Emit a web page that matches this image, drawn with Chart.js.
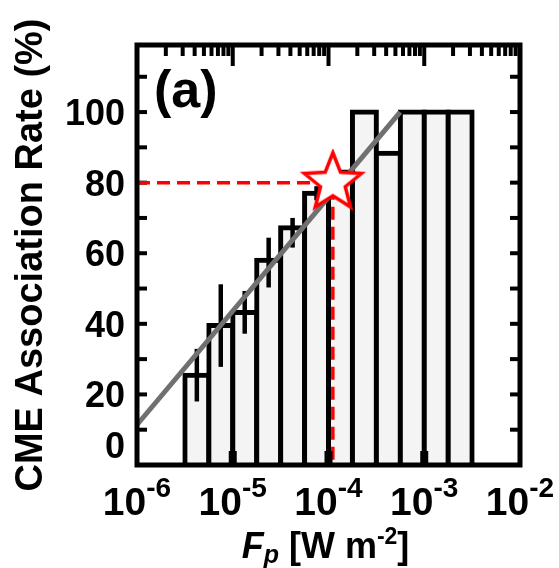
<!DOCTYPE html>
<html><head><meta charset="utf-8">
<script src="https://cdn.jsdelivr.net/npm/chart.js@4.4.1/dist/chart.umd.min.js"></script>
<style>html,body{margin:0;padding:0;background:#fff;}#wrap{width:559px;height:568px;position:relative;}</style>
</head><body><div id="wrap"><canvas id="c"></canvas></div>
<script>
// ---- data ----
const decades = [-6, -5, -4, -3, -2];                 // x tick labels: 10^d
const yTickLabels = [0, 20, 40, 60, 80, 100];
const binLogCenters = [-5.375, -5.125, -4.875, -4.625, -4.375, -4.125, -3.875, -3.625, -3.375, -3.125, -2.875, -2.625];
const rates = [25.4, 39.5, 43.2, 58.0, 67.2, 77.0, 83.0, 100, 88.3, 100, 100, 100];
const errLow  = [18.0, 27.8, 37.2, 50.3, 61.6, 75.0];
const errHigh = [32.9, 51.2, 49.3, 64.4, 70.0, 79.0];
const fitFlux = [1e-6, 5.6e-4];
const fitRate = [11.4, 100];
const markFlux = 1.11e-4;
const markRate = 80;

const FONT = '"Liberation Sans", Arial, Helvetica, sans-serif';

function makeStar(R, r, lw) {
  const s = Math.ceil(2 * R + lw + 4);
  const c = document.createElement('canvas');
  c.width = s; c.height = s;
  const g = c.getContext('2d');
  const cx = s / 2, cy = s / 2;
  g.beginPath();
  for (let i = 0; i < 10; i++) {
    const rad = i % 2 === 0 ? R : r;
    const a = -Math.PI / 2 + i * Math.PI / 5;
    g.lineTo(cx + rad * Math.cos(a), cy + rad * Math.sin(a));
  }
  g.closePath();
  g.fillStyle = '#fff'; g.fill();
  g.strokeStyle = '#ff0000'; g.lineWidth = lw; g.lineJoin = 'miter'; g.stroke();
  return c;
}

const barData = binLogCenters.map((l, i) => ({ x: Math.pow(10, l), y: rates[i] }));
const errData = errLow.map((lo, i) => ({ x: Math.pow(10, binLogCenters[i]), y: [lo, errHigh[i]] }));
const fitData = fitFlux.map((f, i) => ({ x: f, y: fitRate[i] }));
const dashData = [{ x: Math.pow(10, decades[0]), y: markRate }, { x: markFlux, y: markRate }, { x: markFlux, y: 0 }];

function seg(ctx, x1, y1, x2, y2) { ctx.beginPath(); ctx.moveTo(x1, y1); ctx.lineTo(x2, y2); ctx.stroke(); }

const decor = {
  id: 'decor',
  beforeDatasetsDraw(chart) {
    const { ctx, chartArea: a, scales: { x, y } } = chart;
    ctx.save();
    ctx.strokeStyle = '#000'; ctx.lineWidth = 4; ctx.lineCap = 'butt';
    for (let v = 0; v <= 110; v += 10) {
      const py = y.getPixelForValue(v);
      seg(ctx, a.left, py, a.left + 10, py);
      seg(ctx, a.right - 10, py, a.right, py);
    }
    for (let d = decades[0]; d < decades[decades.length - 1]; d++) {
      for (let m = 1; m <= 9; m++) {
        const px = x.getPixelForValue(m * Math.pow(10, d));
        seg(ctx, px, a.top, px, a.top + (m === 1 ? 21 : 11));
      }
    }
    ctx.restore();
  },
  afterDatasetsDraw(chart) {
    const { ctx, chartArea: a, scales: { x } } = chart;
    ctx.save();
    ctx.fillStyle = '#000';
    for (let i = 1; i < decades.length - 1; i++) {
      const px = x.getPixelForValue(Math.pow(10, decades[i]));
      ctx.fillRect(px - 4, a.bottom - 14, 8, 14);
    }
    ctx.strokeStyle = '#000'; ctx.lineWidth = 5; ctx.lineJoin = 'miter';
    ctx.strokeRect(a.left, a.top, a.right - a.left, a.bottom - a.top);
    ctx.restore();
  },
  afterDraw(chart) {
    const { ctx, chartArea: a, scales: { x, y } } = chart;
    ctx.save();
    ctx.fillStyle = '#000';
    // y tick labels
    ctx.font = 'bold 36px ' + FONT;
    ctx.textAlign = 'right'; ctx.textBaseline = 'middle';
    yTickLabels.forEach(v => {
      const py = Math.min(y.getPixelForValue(v) + 3, a.bottom - 17);
      ctx.fillText(String(v), a.left - 12, py);
    });
    // x tick labels 10^d
    ctx.textAlign = 'left'; ctx.textBaseline = 'alphabetic';
    decades.forEach(d => {
      const px = x.getPixelForValue(Math.pow(10, d));
      ctx.font = 'bold 39px ' + FONT;
      const w1 = ctx.measureText('10').width;
      ctx.font = 'bold 28px ' + FONT;
      const e = '-' + Math.abs(d);
      const w2 = ctx.measureText(e).width;
      const x0 = px - (w1 + w2) / 2;
      ctx.font = 'bold 39px ' + FONT;
      ctx.fillText('10', x0, a.bottom + 50);
      ctx.font = 'bold 28px ' + FONT;
      ctx.fillText(e, x0 + w1, a.bottom + 32);
    });
    // x axis title: F_p [W m^-2]
    const parts = [
      { t: 'F', f: 'italic bold 36px ', dy: 0 },
      { t: 'p', f: 'italic bold 25px ', dy: 5 },
      { t: ' [W m', f: 'bold 36px ', dy: 0 },
      { t: '-2', f: 'bold 23px ', dy: -14 },
      { t: ']', f: 'bold 36px ', dy: 0 }
    ];
    let tw = 0;
    parts.forEach(p => { ctx.font = p.f + FONT; p.w = ctx.measureText(p.t).width; tw += p.w; });
    let cx = (a.left + a.right) / 2 - tw / 2 - 3;
    const base = a.bottom + 93;
    parts.forEach(p => { ctx.font = p.f + FONT; ctx.fillText(p.t, cx, base + p.dy); cx += p.w; });
    // panel label
    ctx.font = 'bold 52px ' + FONT;
    ctx.fillText('(a)', a.left + 17, a.top + 62);
    ctx.restore();
  }
};

new Chart(document.getElementById('c'), {
  type: 'bar',
  data: {
    datasets: [
      { type: 'scatter', data: [{ x: markFlux, y: markRate }], pointStyle: makeStar(30, 13, 3.5), pointRadius: 15, order: 0 },
      { type: 'line', data: dashData, borderColor: '#ff0000', borderWidth: 3.5, borderDash: [13, 7], pointRadius: 0, fill: false, order: 1 },
      { type: 'line', data: fitData, borderColor: '#707070', borderWidth: 5, pointRadius: 0, fill: false, order: 2 },
      { type: 'bar', data: errData, backgroundColor: '#000', borderWidth: 0, barThickness: 4.5, grouped: false, inflateAmount: 0, order: 3 },
      { type: 'bar', data: barData, backgroundColor: '#f4f4f4', borderColor: '#000', borderWidth: 5, borderSkipped: 'start',
        barPercentage: 1, categoryPercentage: 1, inflateAmount: 2.5, grouped: false, order: 4 }
    ]
  },
  options: {
    responsive: true, maintainAspectRatio: false, animation: false, devicePixelRatio: 1,
    layout: { padding: { left: 0, right: 39, top: 45, bottom: 0 } },
    plugins: { legend: { display: false }, tooltip: { enabled: false } },
    scales: {
      x: {
        type: 'logarithmic', min: 1e-6, max: 1e-2, offset: false,
        grid: { display: false, drawTicks: false, offset: false }, border: { display: false },
        ticks: { display: false },
        afterBuildTicks: s => { s.ticks = decades.map(d => ({ value: Math.pow(10, d), major: true })); },
        afterFit: s => { s.height = 103; }
      },
      y: {
        type: 'linear', min: 0, max: 119,
        grid: { display: false, drawTicks: false }, border: { display: false },
        ticks: { display: false },
        afterBuildTicks: s => { s.ticks = yTickLabels.map(v => ({ value: v })); },
        title: { display: true, text: 'CME Association Rate (%)', color: '#000',
          font: { family: FONT, size: 38, weight: 'bold', lineHeight: 1.2 }, padding: { top: 9, bottom: 0 } },
        afterFit: s => { s.width = 137; }
      }
    }
  },
  plugins: [decor]
});
</script>
</body></html>
